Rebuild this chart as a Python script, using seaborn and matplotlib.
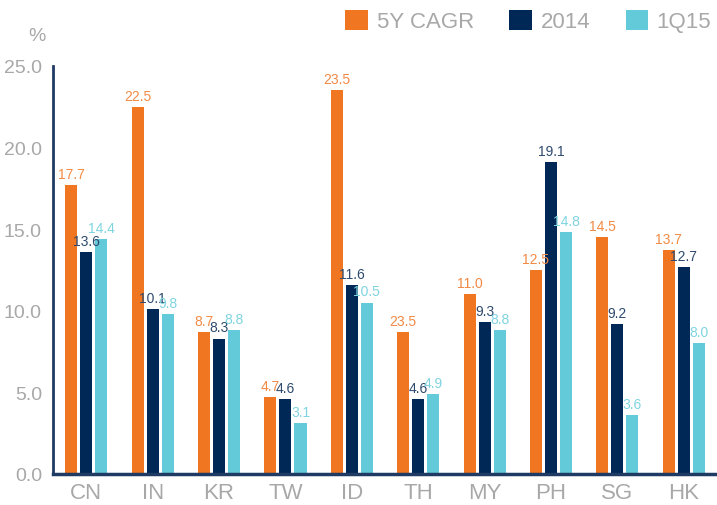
import numpy as np
import pandas as pd
import matplotlib
matplotlib.use("Agg")
import matplotlib.pyplot as plt
import seaborn as sns

# data
markets = ["CN", "IN", "KR", "TW", "ID", "TH", "MY", "PH", "SG", "HK"]
series = ["5Y CAGR", "2014", "1Q15"]
cagr_5y = [17.7, 22.5, 8.7, 4.7, 23.5, 8.7, 11.0, 12.5, 14.5, 13.7]
cagr_5y_labels = ["17.7", "22.5", "8.7", "4.7", "23.5", "23.5", "11.0", "12.5", "14.5", "13.7"]
y2014 = [13.6, 10.1, 8.3, 4.6, 11.6, 4.6, 9.3, 19.1, 9.2, 12.7]
q1_15 = [14.4, 9.8, 8.8, 3.1, 10.5, 4.9, 8.8, 14.8, 3.6, 8.0]
y_ticks = [0.0, 5.0, 10.0, 15.0, 20.0, 25.0]

colors = ["#F07622", "#002856", "#62CAD8"]
label_colors = ["#F28A45", "#2E4A6E", "#7FD4E0"]
grey = "#A8A8A8"

df = pd.DataFrame({
    "market": markets * 3,
    "series": np.repeat(series, len(markets)),
    "value": cagr_5y + y2014 + q1_15,
})

sns.set_style("white")
plt.rcParams["font.family"] = ["Liberation Sans", "DejaVu Sans"]

fig = plt.figure(figsize=(7.17, 5.06), dpi=100)
ax = fig.add_axes([0.074, 0.0613, 0.926, 0.8063])

sns.barplot(data=df, x="market", y="value", hue="series", hue_order=series,
            palette=colors, width=0.68, gap=0.2, saturation=1,
            edgecolor="none", ax=ax)

ax.set_xlim(-0.5, len(markets) - 0.5)
ax.set_ylim(0, 25)
ax.set_yticks(y_ticks)
ax.set_yticklabels([f"{t:.1f}" for t in y_ticks])
ax.set_xlabel("")
ax.set_ylabel("")

# value labels
all_labels = [cagr_5y_labels, [f"{v:.1f}" for v in y2014], [f"{v:.1f}" for v in q1_15]]
for cont, labs, c in zip(ax.containers, all_labels, label_colors):
    ax.bar_label(cont, labels=labs, padding=3, color=c, fontsize=10)

# spines and ticks
for s in ["top", "right"]:
    ax.spines[s].set_visible(False)
ax.spines["left"].set_color("#1F3B63")
ax.spines["left"].set_linewidth(2)
ax.spines["bottom"].set_color("#1F3B63")
ax.spines["bottom"].set_linewidth(2.5)

ax.tick_params(axis="y", direction="in", length=5, color="#DDDDDD",
               labelcolor=grey, labelsize=14, pad=8)
ax.tick_params(axis="x", which="major", length=0, labelcolor=grey,
               labelsize=16, pad=6)
ax.set_xticks(np.arange(len(markets) - 1) + 0.5, minor=True)
ax.tick_params(axis="x", which="minor", direction="out", length=4, color="#DDDDDD")

fig.text(0.040, 0.928, "%", color=grey, fontsize=14, ha="left", va="center")

handles, lbls = ax.get_legend_handles_labels()
ax.legend(handles, lbls, loc="upper right", bbox_to_anchor=(1.02, 1.018),
          bbox_transform=fig.transFigure, ncol=3, frameon=False,
          fontsize=16, labelcolor=grey, handlelength=1.0, handleheight=1.0,
          handletextpad=0.4, columnspacing=1.6)

fig.savefig("out.png", dpi=100)
